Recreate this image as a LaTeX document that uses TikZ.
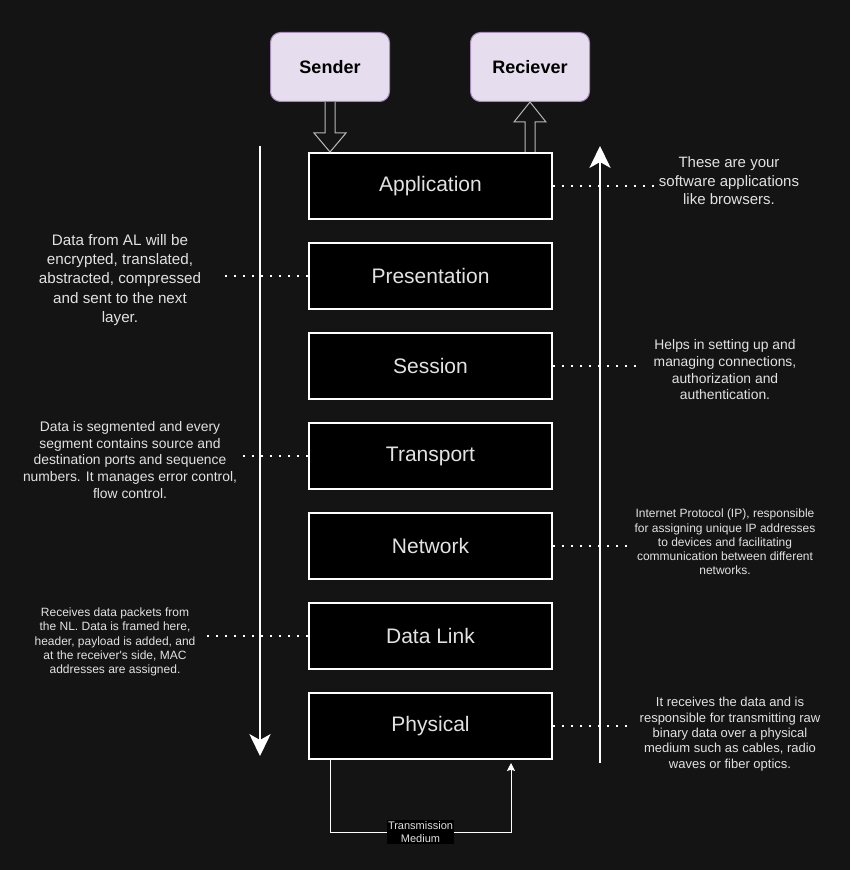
\documentclass[tikz,border=0pt]{standalone}
\usepackage{fontspec}
\setmainfont{Liberation Sans}
\usetikzlibrary{arrows.meta,calc}
\definecolor{bg}{RGB}{20,20,20}
\definecolor{txt}{RGB}{226,226,226}
\definecolor{userfill}{HTML}{E6DEEE}
\definecolor{userdraw}{HTML}{A88CBA}
\definecolor{blockedge}{RGB}{185,185,185}

\begin{document}
\begin{tikzpicture}[x=0.75pt,y=-0.75pt,
  layerbox/.style={draw=white, line width=1.5pt, fill=black, text=txt,
    minimum width=182.25pt, minimum height=49.5pt, inner sep=0pt,
    font=\fontsize{15.75}{18}\selectfont},
  userbox/.style={draw=userdraw, line width=0.75pt, fill=userfill, rounded corners=7.5pt,
    minimum width=89.25pt, minimum height=51.75pt, inner sep=0pt,
    font=\bfseries\fontsize{13.5}{16}\selectfont, text=black},
  desc/.style={text=txt, align=center, inner sep=0pt},
  blockarrow/.style={draw=blockedge, line width=0.75pt, fill=bg, line join=miter},
  dotline/.style={draw=white, line width=1.5pt, dash pattern=on 1.5pt off 5.25pt},
  flowline/.style={draw=white, line width=0.9pt,
    -{Stealth[length=16.5pt, width=16pt, inset=4.5pt]}},
  medium/.style={draw=white, line width=0.75pt,
    -{Stealth[length=6pt, width=6pt, inset=1pt]}},
  medlabel/.style={fill=black, text=txt, align=center, inner xsep=1pt, inner ysep=1pt,
    font=\fontsize{8.25}{10}\selectfont}
]
% canvas
\fill[bg] (0,0) rectangle (850,870);
\useasboundingbox (0,0) rectangle (850,870);

% endpoints
\node[userbox] (snd) at (330,67) {Sender};
\node[userbox] (rcv) at (530,67) {Reciever};

% the seven layers
\node[layerbox] (app) at (430.5,186) {Application};
\node[layerbox] (pre) at (430.5,276) {Presentation};
\node[layerbox] (ses) at (430.5,366) {Session};
\node[layerbox] (tra) at (430.5,456) {Transport};
\node[layerbox] (net) at (430.5,546) {Network};
\node[layerbox] (dl)  at (430.5,636) {Data Link};
\node[layerbox] (phy) at (430.5,726) {Physical};

% hollow block arrows between endpoints and the application layer
\coordinate (sTip) at (snd.south |- app.north);
\draw[blockarrow] ($(snd.south)+(-5,0)$) -- ($(sTip)+(-5,-19)$) -- ($(sTip)+(-16,-19)$)
  -- (sTip) -- ($(sTip)+(16,-19)$) -- ($(sTip)+(5,-19)$) -- ($(snd.south)+(5,0)$);
\coordinate (rBase) at (rcv.south |- app.north);
\draw[blockarrow] ($(rBase)+(-5,0)$) -- ($(rcv.south)+(-5,20)$) -- ($(rcv.south)+(-16,20)$)
  -- (rcv.south) -- ($(rcv.south)+(16,20)$) -- ($(rcv.south)+(5,20)$) -- ($(rBase)+(5,0)$);

% downward (sending) and upward (receiving) flow
\coordinate (downTop) at (260,146);
\coordinate (downEnd) at (260,756);
\draw[flowline] (downTop) -- (downEnd);
\coordinate (upStart) at (600,763);
\coordinate (upTop) at (600,146);
\draw[flowline] (upStart) -- (upTop);

% transmission medium loop
\draw[medium] ($(phy.south west)+(22,0)$) -- ++(0,72)
  -| node[medlabel, pos=0.25] (tm) {Transmission\\Medium} ($(phy.south east)+(-42,3)$);

% descriptions
\node[desc, font=\fontsize{11.25}{13.9}\selectfont] (dApp) at (729,181)
  {These are your\\software applications\\like browsers.};
\node[desc, font=\fontsize{11.4}{14.5}\selectfont] (dPre) at (120,280)
  {Data from AL will be\\encrypted, translated,\\abstracted, compressed\\and sent to the next\\layer.};
\node[desc, font=\fontsize{10.4}{12.5}\selectfont] (dSes) at (725,370)
  {Helps in setting up and\\managing connections,\\authorization and\\authentication.};
\node[desc, font=\fontsize{10.4}{12.45}\selectfont] (dTra) at (130,460)
  {Data is segmented and every\\segment contains source and\\destination ports and sequence\\numbers. It manages error control,\\flow control.};
\node[desc, font=\fontsize{9}{10.65}\selectfont] (dNet) at (725,542)
  {Internet Protocol (IP), responsible\\for assigning unique IP addresses\\to devices and facilitating\\communication between different\\networks.};
\node[desc, font=\fontsize{9}{10.8}\selectfont] (dDl) at (115,642)
  {Receives data packets from\\the NL. Data is framed here,\\header, payload is added, and\\at the receiver\textquotesingle s side, MAC\\addresses are assigned.};
\node[desc, font=\fontsize{9.75}{11.5}\selectfont] (dPhy) at (730,734)
  {It receives the data and is\\responsible for transmitting raw\\binary data over a physical\\medium such as cables, radio\\waves or fiber optics.};

% dotted leaders from layers to their descriptions
\coordinate (lApp) at (655,185);
\coordinate (lPre) at (222,282);
\coordinate (lSes) at (638,365);
\coordinate (lTra) at (242,457);
\coordinate (lNet) at (627,544);
\coordinate (lDl)  at (201,636);
\coordinate (lPhy) at (627,725);
\draw[dotline] (app.east) -- (app.east -| lApp);
\draw[dotline] (pre.west) -- (pre.west -| lPre);
\draw[dotline] (ses.east) -- (ses.east -| lSes);
\draw[dotline] (tra.west) -- (tra.west -| lTra);
\draw[dotline] (net.east) -- (net.east -| lNet);
\draw[dotline] (dl.west)  -- (dl.west -| lDl);
\draw[dotline] (phy.east) -- (phy.east -| lPhy);
\end{tikzpicture}
\end{document}
